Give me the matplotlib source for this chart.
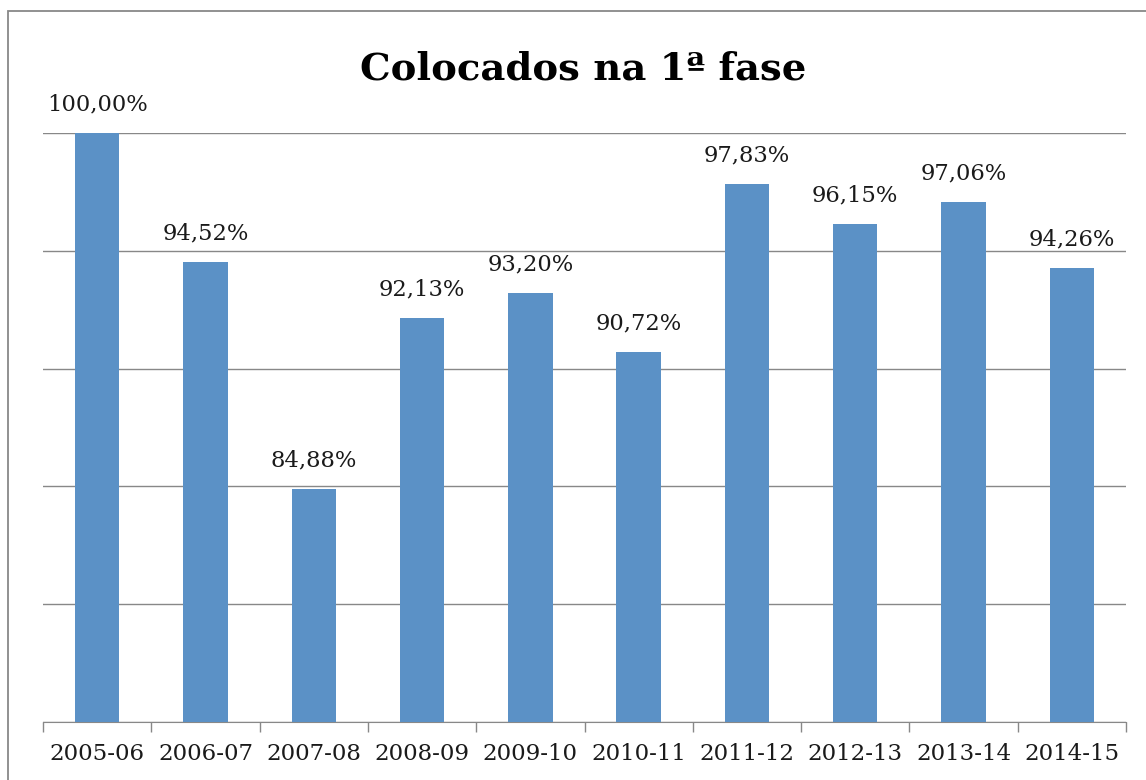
import matplotlib
matplotlib.use("Agg")
import matplotlib.pyplot as plt
from matplotlib.patches import Rectangle

# dados
anos = ['2005-06', '2006-07', '2007-08', '2008-09', '2009-10',
        '2010-11', '2011-12', '2012-13', '2013-14', '2014-15']
colocados = [100.00, 94.52, 84.88, 92.13, 93.20, 90.72, 97.83, 96.15, 97.06, 94.26]

fig = plt.figure(figsize=(11.46, 7.8), dpi=100)
ax = fig.add_axes([43/1146, 1-722/780, (1126-43)/1146, (722-133)/780])

x = list(range(len(anos)))
ax.bar(x, colocados, width=0.41, color='#5b91c6', zorder=3)

ax.set_xlim(-0.5, len(anos)-0.5)
ax.set_ylim(75, 100)
ax.set_yticks([75, 80, 85, 90, 95, 100])
ax.yaxis.grid(True, color='#888888', linewidth=1, zorder=0)
ax.tick_params(axis='y', left=False, labelleft=False)

# ticks entre categorias
ax.set_xticks([i - 0.5 for i in range(len(anos)+1)])
ax.set_xticklabels([])
ax.set_xticks(x, minor=True)
ax.set_xticklabels(anos, minor=True, fontsize=16.5, family='DejaVu Serif', color='#1a1a1a')
ax.tick_params(axis='x', which='major', length=7, color='#888888', width=1)
ax.tick_params(axis='x', which='minor', length=0, pad=15)

for s in ['top', 'right', 'left']:
    ax.spines[s].set_visible(False)
ax.spines['bottom'].set_color('#888888')

for xi, v in zip(x, colocados):
    ax.text(xi, v + 0.75, ('%.2f%%' % v).replace('.', ','), ha='center', va='bottom',
            fontsize=16.3, family='DejaVu Serif', color='#1a1a1a', clip_on=False)

fig.text(0.509, 0.912, 'Colocados na 1ª fase', ha='center', va='center',
         fontsize=27.7, fontweight='bold', family='DejaVu Serif')

# moldura
fig.patches.append(Rectangle((8/1146, -0.1), 1.2, 1-11/780+0.1, transform=fig.transFigure,
                             fill=False, edgecolor='#888888', linewidth=1.3))

fig.savefig('out.png', dpi=100)
